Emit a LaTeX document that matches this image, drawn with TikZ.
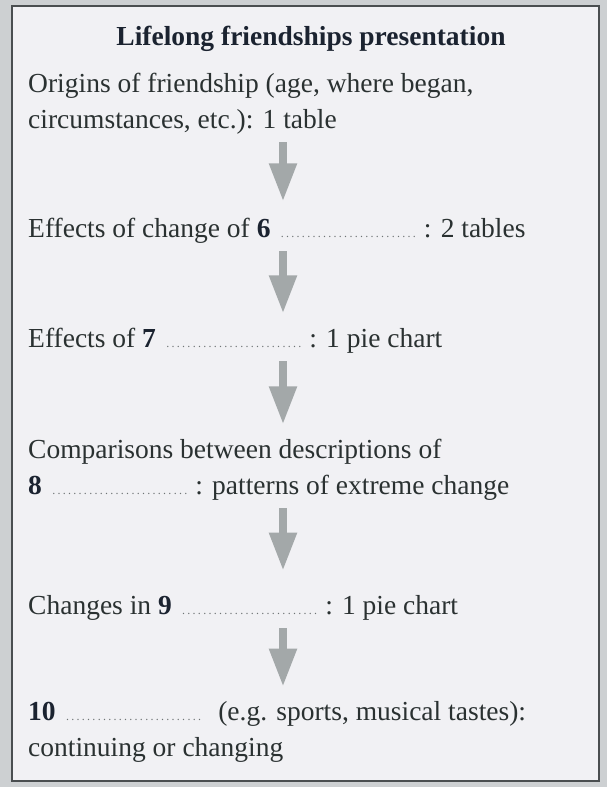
\documentclass[tikz,border=0pt]{standalone}
\usepackage{fontspec}
\setmainfont{Liberation Serif}
\usepackage{tikz}
\usetikzlibrary{arrows.meta, positioning, calc}
\definecolor{scanbg}{HTML}{CDD0D2}
\definecolor{boxbg}{HTML}{F1F1F4}
\definecolor{framec}{HTML}{4A4E50}
\definecolor{bodytext}{HTML}{2A3131}
\definecolor{titletext}{HTML}{1B2330}
\definecolor{arrowgrey}{HTML}{A3A8A9}
\definecolor{dotgrey}{HTML}{6E7374}

\newcommand{\gap}{\makebox[142pt]{\color{dotgrey}\fontsize{12}{12}\selectfont\dotfill}}
\newcommand{\qnum}[1]{{\bfseries\color{titletext}#1}}

\begin{document}
\begin{tikzpicture}[x=1pt, y=-1pt,
    item/.style={anchor=base west, inner sep=0pt, align=left, text=bodytext,
                 font=\fontsize{27.5}{36}\selectfont},
    heading/.style={anchor=base, inner sep=0pt, text=titletext,
                    font=\fontsize{27.5}{36}\selectfont\bfseries},
    flow/.style={-{Triangle[width=26pt,length=38pt]}, line width=8pt,
                 color=arrowgrey, shorten <=8pt, shorten >=14pt}
  ]
    % Background and frame
    \fill[scanbg] (0,0) rectangle (607,787);
    \draw[fill=boxbg, draw=framec, line width=1.5pt] (12,6) rectangle (599,781);

    % Title
    \node[heading] (title) at (311,45) {Lifelong friendships presentation};

    % Steps (base = last line)
    \node[item] (origins) at (28,128)
      {Origins of friendship (age, where began,\\circumstances, etc.): 1 table};
    \node[item] (change) at (28,237)
      {Effects of change of \qnum{6} \gap\,: 2 tables};
    \node[item] (effects) at (28,347)
      {Effects of \qnum{7} \gap\,: 1 pie chart};
    \node[item] (compare) at (28,494)
      {Comparisons between descriptions of\\\qnum{8} \gap\,: patterns of extreme change};
    \node[item] (changes) at (28,614)
      {Changes in \qnum{9} \gap\,: 1 pie chart};
    \node[item] (interests) at (28,756)
      {\qnum{10} \gap\enspace(e.g. sports, musical tastes):\\continuing or changing};

    % Arrows
    \coordinate (axis) at (283,0);
    \draw[flow, shorten >=16pt] (origins.south -| axis) -- (change.north -| axis);
    \draw[flow] (change.south -| axis) -- (effects.north -| axis);
    \draw[flow] (effects.south -| axis) -- (compare.north -| axis);
    \draw[flow, shorten >=24pt] (compare.south -| axis) -- (changes.north -| axis);
    \draw[flow] (changes.south -| axis) -- (interests.north -| axis);
\end{tikzpicture}
\end{document}
